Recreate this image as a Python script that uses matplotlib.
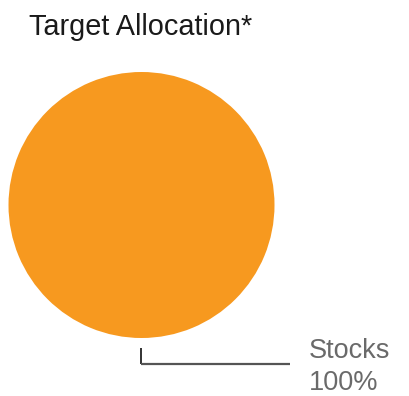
import matplotlib
matplotlib.use('Agg')
import matplotlib.pyplot as plt

labels = ['Stocks']
shares = [100]
colors = ['#F7991F']

fig = plt.figure(figsize=(4.10, 3.96), dpi=100)
ax = fig.add_axes([0, 0, 1, 1])

# pixel-like coordinates, y downwards
cx, cy, r = 141.5, 205, 133
ax.pie(shares, colors=colors, radius=r, center=(cx, cy), startangle=90,
       wedgeprops=dict(linewidth=0), frame=True)
ax.set_xlim(0, 410)
ax.set_ylim(396, 0)
ax.set_aspect('equal')
ax.axis('off')

# leader line
ax.plot([cx, cx], [348, 364], color='#222222', lw=1.3, solid_capstyle='butt')
ax.plot([cx, 290], [364, 364], color='#555555', lw=1.6, solid_capstyle='butt')

font = 'Liberation Sans'
ax.text(309, 358, labels[0], color='#6a6a6a', fontsize=19.5,
        family=font, va='baseline', ha='left')
ax.text(309, 390, f'{shares[0]}%', color='#6a6a6a', fontsize=19.5,
        family=font, va='baseline', ha='left')

ax.text(29, 35, 'Target Allocation*', color='#1a1a1a', fontsize=20.8,
        family=font, va='baseline', ha='left')

plt.savefig('out.png', dpi=100)
